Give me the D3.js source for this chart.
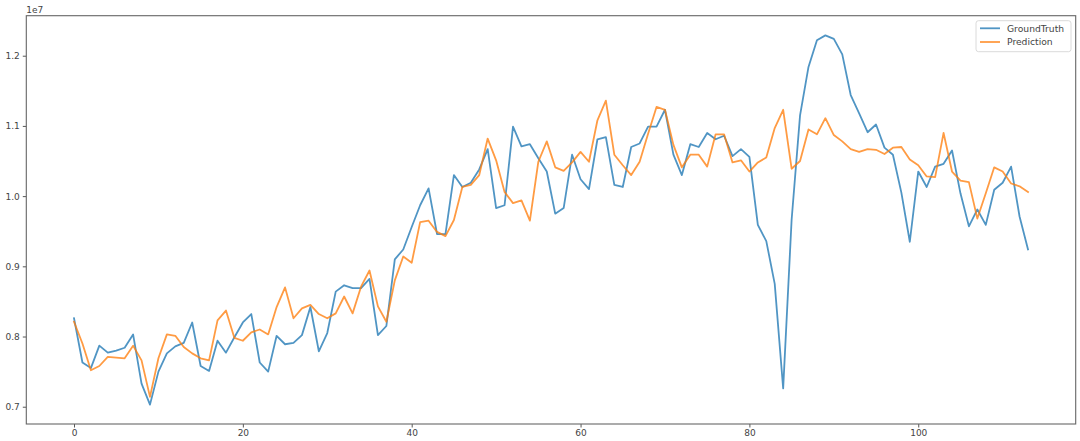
<!DOCTYPE html>
<html>
<head>
<meta charset="utf-8">
<script src="https://cdn.jsdelivr.net/npm/d3@7/dist/d3.min.js"></script>
<style>
  html, body { margin: 0; padding: 0; background: #fff; }
  svg { display: block; }
  text { font-family: "DejaVu Sans", sans-serif; }
</style>
</head>
<body>
<svg id="chart" width="1080" height="441"></svg>
<script>
// ---- data ----
const groundTruth = [
  8.26e6, 7.63e6, 7.55e6, 7.87e6, 7.77e6, 7.80e6, 7.84e6, 8.03e6, 7.33e6, 7.03e6,
  7.50e6, 7.76e6, 7.86e6, 7.91e6, 8.20e6, 7.58e6, 7.51e6, 7.94e6, 7.77e6, 7.99e6,
  8.20e6, 8.32e6, 7.63e6, 7.50e6, 8.01e6, 7.89e6, 7.91e6, 8.02e6, 8.42e6, 7.79e6,
  8.05e6, 8.64e6, 8.73e6, 8.69e6, 8.69e6, 8.82e6, 8.02e6, 8.15e6, 9.10e6, 9.24e6,
  9.56e6, 9.87e6, 10.11e6, 9.46e6, 9.46e6, 10.30e6, 10.13e6, 10.19e6, 10.38e6, 10.67e6,
  9.83e6, 9.87e6, 10.99e6, 10.71e6, 10.74e6, 10.54e6, 10.35e6, 9.75e6, 9.83e6, 10.59e6,
  10.24e6, 10.10e6, 10.81e6, 10.84e6, 10.16e6, 10.13e6, 10.70e6, 10.75e6, 10.99e6, 10.99e6,
  11.23e6, 10.59e6, 10.30e6, 10.74e6, 10.70e6, 10.90e6, 10.81e6, 10.86e6, 10.57e6, 10.67e6,
  10.56e6, 9.59e6, 9.36e6, 8.75e6, 7.26e6, 9.66e6, 11.15e6, 11.84e6, 12.22e6, 12.29e6,
  12.24e6, 12.02e6, 11.44e6, 11.18e6, 10.91e6, 11.02e6, 10.69e6, 10.59e6, 10.05e6, 9.35e6,
  10.35e6, 10.13e6, 10.42e6, 10.46e6, 10.65e6, 10.04e6, 9.57e6, 9.81e6, 9.59e6, 10.09e6,
  10.19e6, 10.42e6, 9.71e6, 9.24e6
];
const prediction = [
  8.21e6, 7.90e6, 7.52e6, 7.58e6, 7.71e6, 7.70e6, 7.69e6, 7.87e6, 7.66e6, 7.14e6,
  7.69e6, 8.03e6, 8.01e6, 7.85e6, 7.76e6, 7.69e6, 7.66e6, 8.23e6, 8.37e6, 7.98e6,
  7.94e6, 8.06e6, 8.10e6, 8.03e6, 8.42e6, 8.70e6, 8.26e6, 8.40e6, 8.45e6, 8.32e6,
  8.26e6, 8.33e6, 8.57e6, 8.33e6, 8.71e6, 8.94e6, 8.43e6, 8.21e6, 8.80e6, 9.14e6,
  9.05e6, 9.63e6, 9.65e6, 9.49e6, 9.43e6, 9.66e6, 10.13e6, 10.16e6, 10.30e6, 10.82e6,
  10.51e6, 10.06e6, 9.90e6, 9.94e6, 9.65e6, 10.49e6, 10.78e6, 10.41e6, 10.36e6, 10.48e6,
  10.63e6, 10.49e6, 11.08e6, 11.36e6, 10.59e6, 10.44e6, 10.30e6, 10.49e6, 10.89e6, 11.27e6,
  11.23e6, 10.73e6, 10.41e6, 10.59e6, 10.59e6, 10.42e6, 10.88e6, 10.88e6, 10.48e6, 10.51e6,
  10.35e6, 10.48e6, 10.55e6, 10.97e6, 11.23e6, 10.39e6, 10.50e6, 10.95e6, 10.88e6, 11.11e6,
  10.87e6, 10.78e6, 10.67e6, 10.63e6, 10.67e6, 10.66e6, 10.60e6, 10.69e6, 10.70e6, 10.52e6,
  10.44e6, 10.28e6, 10.27e6, 10.90e6, 10.35e6, 10.22e6, 10.20e6, 9.68e6, 10.04e6, 10.41e6,
  10.35e6, 10.18e6, 10.14e6, 10.06e6
];
const seriesNames = ["GroundTruth", "Prediction"];
const xTicks = [0, 20, 40, 60, 80, 100];
const yTicks = [7e6, 8e6, 9e6, 10e6, 11e6, 12e6];
const yTickLabels = ["0.7", "0.8", "0.9", "1.0", "1.1", "1.2"];
const offsetLabel = "1e7";

// ---- layout ----
const plot = { left: 26.3, right: 1075.7, top: 15.7, bottom: 424 };
const colors = ["#1f77b4", "#ff7f0e"];

const svg = d3.select("#chart");

const n = groundTruth.length;
const xPad = (n - 1) * 0.05;
const x = d3.scaleLinear().domain([-xPad, (n - 1) + xPad]).range([plot.left, plot.right]);
const y = d3.scaleLinear().domain([6.754e6, 12.57e6]).range([plot.bottom, plot.top]);

// clip
svg.append("defs").append("clipPath").attr("id", "clip")
  .append("rect").attr("x", plot.left).attr("y", plot.top)
  .attr("width", plot.right - plot.left).attr("height", plot.bottom - plot.top);

const line = d3.line().x((d, i) => x(i)).y(d => y(d));

const g = svg.append("g").attr("clip-path", "url(#clip)");
[groundTruth, prediction].forEach((s, k) => {
  g.append("path")
    .datum(s)
    .attr("d", line)
    .attr("fill", "none")
    .attr("stroke", colors[k])
    .attr("stroke-width", 1.8)
    .attr("stroke-opacity", 0.78)
    .attr("stroke-linejoin", "round")
    .attr("stroke-linecap", "square");
});

// axes
const xAxis = d3.axisBottom(x).tickValues(xTicks).tickSize(3.5).tickPadding(2.5).tickFormat(d3.format("d"));
const yAxis = d3.axisLeft(y).tickValues(yTicks).tickSize(3.5).tickPadding(3)
  .tickFormat((d, i) => yTickLabels[i]);

const gx = svg.append("g").attr("transform", `translate(0,${plot.bottom})`).call(xAxis);
const gy = svg.append("g").attr("transform", `translate(${plot.left},0)`).call(yAxis);
[gx, gy].forEach(a => {
  a.select(".domain").remove();
  a.selectAll(".tick line").attr("stroke", "#444").attr("stroke-width", 0.9);
  a.selectAll(".tick text").attr("fill", "#444").style("font-size", "9px")
    .style("font-family", "'DejaVu Sans', sans-serif");
});

// frame
svg.append("rect")
  .attr("x", plot.left).attr("y", plot.top)
  .attr("width", plot.right - plot.left).attr("height", plot.bottom - plot.top)
  .attr("fill", "none").attr("stroke", "#666").attr("stroke-width", 1.1);

// offset label
svg.append("text").attr("x", plot.left).attr("y", 13)
  .attr("fill", "#444").style("font-size", "9px").text(offsetLabel);

// legend
const lg = svg.append("g");
lg.append("rect")
  .attr("x", 976).attr("y", 20.7).attr("width", 95).attr("height", 31)
  .attr("rx", 2.5).attr("fill", "#fff").attr("fill-opacity", 0.8)
  .attr("stroke", "#d6d6d6").attr("stroke-width", 0.9);
seriesNames.forEach((name, k) => {
  const yy = 28.3 + k * 13.7;
  lg.append("line").attr("x1", 980).attr("x2", 1000).attr("y1", yy).attr("y2", yy)
    .attr("stroke", colors[k]).attr("stroke-width", 1.8).attr("stroke-opacity", 0.78);
  lg.append("text").attr("x", 1007).attr("y", yy + 3.3)
    .attr("fill", "#444").style("font-size", "9.2px").text(name);
});
</script>
</body>
</html>
